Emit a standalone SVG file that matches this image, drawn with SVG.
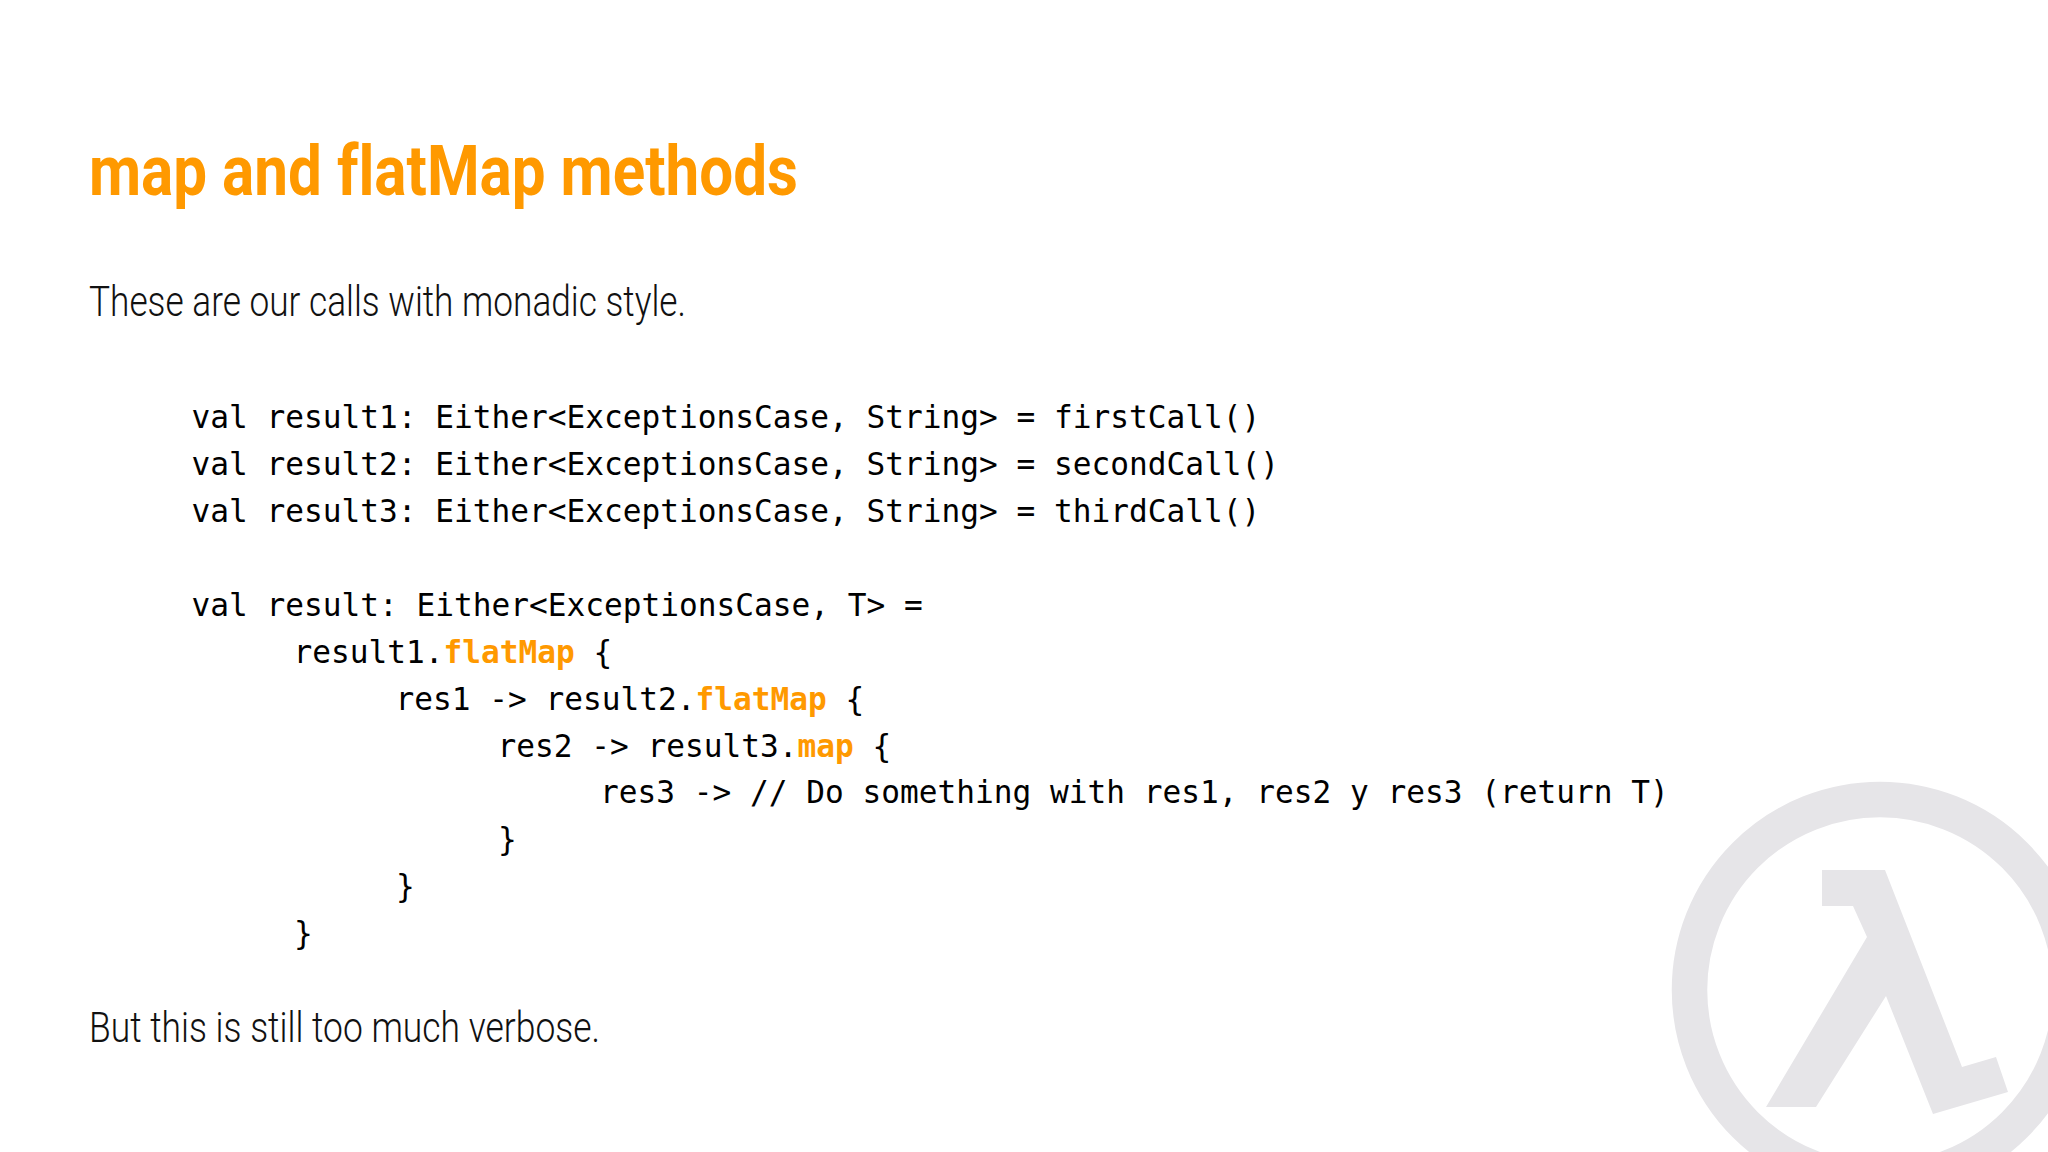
<svg xmlns="http://www.w3.org/2000/svg" width="2048" height="1152" viewBox="0 0 2048 1152">
<style>
.h{font-family:Roboto,sans-serif;font-weight:700;font-size:70px;fill:#ff9900;font-variant-ligatures:none}
.b{font-family:Roboto,sans-serif;font-weight:300;font-size:42px;fill:#111}
.c{font-family:"DejaVu Sans Mono",monospace;font-size:31.15px;fill:#000;white-space:pre}
.o{fill:#ff9900;font-weight:700}
</style>
<rect width="2048" height="1152" fill="#fff"/>
<g id="logo">
<circle cx="1880" cy="990" r="190.5" fill="none" stroke="#e6e5e8" stroke-width="35.5"/>
<path d="M1822 870H1885L1962 1067L1996 1057L2008 1092L1933 1114L1886 996L1816 1107H1766L1867 937L1853 906H1822Z" fill="#e6e5e8"/>
</g>
<text class="h" x="89" y="195" textLength="709" lengthAdjust="spacingAndGlyphs">map and flatMap methods</text>
<text class="b" x="89" y="316" textLength="597" lengthAdjust="spacingAndGlyphs">These are our calls with monadic style.</text>
<text class="c" x="191.5" y="428">val result1: Either&lt;ExceptionsCase, String&gt; = firstCall()</text>
<text class="c" x="191.5" y="475">val result2: Either&lt;ExceptionsCase, String&gt; = secondCall()</text>
<text class="c" x="191.5" y="522">val result3: Either&lt;ExceptionsCase, String&gt; = thirdCall()</text>
<text class="c" x="191.5" y="616">val result: Either&lt;ExceptionsCase, T&gt; =</text>
<text class="c" x="293.5" y="662.500">result1.<tspan class="o">flatMap</tspan> {</text>
<text class="c" x="395.5" y="709.500">res1 -&gt; result2.<tspan class="o">flatMap</tspan> {</text>
<text class="c" x="497.5" y="756.500">res2 -&gt; result3.<tspan class="o">map</tspan> {</text>
<text class="c" x="600" y="803">res3 -&gt; // Do something with res1, res2 y res3 (return T)</text>
<text class="c" x="498" y="850">}</text>
<text class="c" x="396" y="897">}</text>
<text class="c" x="294" y="944">}</text>
<text class="b" x="89" y="1042" textLength="511" lengthAdjust="spacingAndGlyphs">But this is still too much verbose.</text>
</svg>
